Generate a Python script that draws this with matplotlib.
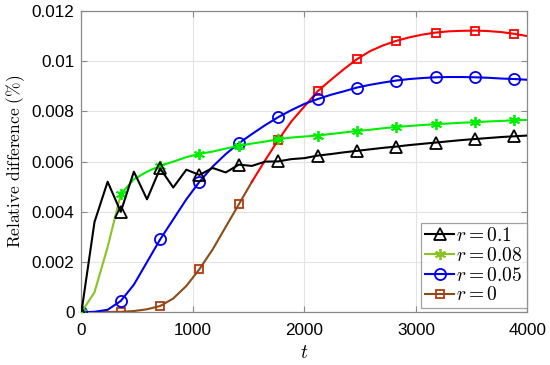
import numpy as np
import matplotlib
matplotlib.use("Agg")
import matplotlib.pyplot as plt

plt.rcParams['font.family'] = ['Liberation Sans', 'DejaVu Sans']
plt.rcParams['mathtext.fontset'] = 'cm'

t = np.linspace(0, 4000, 35)

r01 = [0, 0.0036, 0.0052, 0.0040, 0.0056, 0.0045, 0.00573, 0.00497, 0.00568, 0.00547,
       0.00575, 0.00557, 0.00588, 0.00583, 0.0060, 0.00601, 0.0061, 0.00614, 0.00624, 0.0063,
       0.00637, 0.00643, 0.00649, 0.00655, 0.0066, 0.00666, 0.00671, 0.00676, 0.00681, 0.00686,
       0.0069, 0.00694, 0.00698, 0.00701, 0.00704]
r008 = [0, 0.0008, 0.0026, 0.0047, 0.0053, 0.0056, 0.00583, 0.0060, 0.00618, 0.00631,
        0.0064, 0.00652, 0.00663, 0.00672, 0.0068, 0.00689, 0.00696, 0.0070, 0.00704, 0.0071,
        0.00716, 0.00722, 0.00727, 0.00733, 0.00738, 0.00742, 0.00746, 0.00749, 0.00752, 0.00755,
        0.00757, 0.0076, 0.00762, 0.00765, 0.00766]
r005 = [0, 0.00002, 0.0001, 0.00045, 0.0011, 0.0020, 0.0029, 0.0037, 0.0045, 0.0052,
        0.0058, 0.0063, 0.00673, 0.0071, 0.00745, 0.00777, 0.00805, 0.0083, 0.00849, 0.00866,
        0.0088, 0.00895, 0.00906, 0.00915, 0.00923, 0.00929, 0.00933, 0.00936, 0.00937, 0.00937,
        0.00936, 0.00934, 0.00931, 0.00929, 0.00926]
r0 = [0, 0, 0.00001, 0.00002, 0.00005, 0.00012, 0.00025, 0.00055, 0.00105, 0.00172,
      0.0025, 0.0034, 0.0043, 0.0052, 0.00605, 0.00686, 0.0076, 0.0082, 0.0088, 0.00925,
      0.00968, 0.01008, 0.0104, 0.01063, 0.01081, 0.01095, 0.01106, 0.01114, 0.01119, 0.01121,
      0.01122, 0.0112, 0.01116, 0.01109, 0.0110]

labels = [r'$r = 0.1$', r'$r = 0.08$', r'$r = 0.05$', r'$r = 0$']

fig = plt.figure(figsize=(5.5, 3.65), dpi=100)
ax = fig.add_axes([0.148, 0.1444, 0.811, 0.8255])

lw = 1.5
ast = (6, 2, 0)
# r = 0.1
ax.plot(t, r01, color='black', lw=lw, marker='^', ms=8, mfc='none', mew=1.3,
        markevery=3, label=labels[0], zorder=5)
# r = 0.08 (lower part appears yellow-green)
ax.plot(t[:4], r008[:4], color='#88c422', lw=lw, zorder=4)
ax.plot(t[3:], r008[3:], color='#00ee00', lw=lw, zorder=4)
ax.plot(t[::3], r008[::3], ls='none', marker=ast, ms=8, color='#00ee00', mew=1.3, zorder=4)
ax.plot([], [], color='#88c422', lw=lw, marker=ast, ms=8, mew=1.3, label=labels[1])
# r = 0.05
ax.plot(t, r005, color='#0000ee', lw=lw, marker='o', ms=8, mfc='none', mew=1.3,
        markevery=3, label=labels[2], zorder=3)
# r = 0 (lower part appears brown)
ax.plot(t[:14], r0[:14], color='#8e4a14', lw=lw, zorder=2)
ax.plot(t[13:], r0[13:], color='#ff0000', lw=lw, zorder=2)
idx = np.arange(0, 35, 3)
low = idx[idx <= 12]
high = idx[idx > 12]
ax.plot(t[low], np.array(r0)[low], ls='none', marker='s', ms=6, mfc='none', mew=1.3,
        color='#b03a10', zorder=2)
ax.plot(t[high], np.array(r0)[high], ls='none', marker='s', ms=6, mfc='none', mew=1.3,
        color='#ff0000', zorder=2)
ax.plot([], [], color='#8e4a14', lw=lw, marker='s', ms=6, mfc='none', mew=1.3,
        mec='#b03a10', label=labels[3])

ax.set_xlim(0, 4000)
ax.set_ylim(0, 0.012)
ax.set_xticks([0, 1000, 2000, 3000, 4000])
ax.set_yticks([0, 0.002, 0.004, 0.006, 0.008, 0.01, 0.012])
ax.set_yticklabels(['0', '0.002', '0.004', '0.006', '0.008', '0.01', '0.012'])
ax.grid(True, color='#e3e3e3', lw=0.8)
ax.set_axisbelow(True)
for s in ax.spines.values():
    s.set_color('#8a8a8a')
    s.set_linewidth(0.9)
ax.tick_params(direction='in', length=4, color='#8a8a8a', labelsize=12.3,
               top=True, right=True)
ax.tick_params(axis='y', pad=5)
ax.tick_params(axis='x', pad=8)

ax.set_xlabel(r'$t$', fontsize=14, labelpad=5)
ax.set_ylabel(r'$\mathrm{Relative\ difference\ (\%)}$', fontsize=12.5, labelpad=3)

leg = ax.legend(loc='lower right', bbox_to_anchor=(0.998, 0.013), borderaxespad=0,
                fontsize=14, frameon=True, fancybox=False,
                handlelength=1.5, handletextpad=0.1, borderpad=0.2, labelspacing=0.1)
leg.get_frame().set_edgecolor('#8a8a8a')
leg.get_frame().set_linewidth(0.9)

fig.savefig('out.png', dpi=100)
